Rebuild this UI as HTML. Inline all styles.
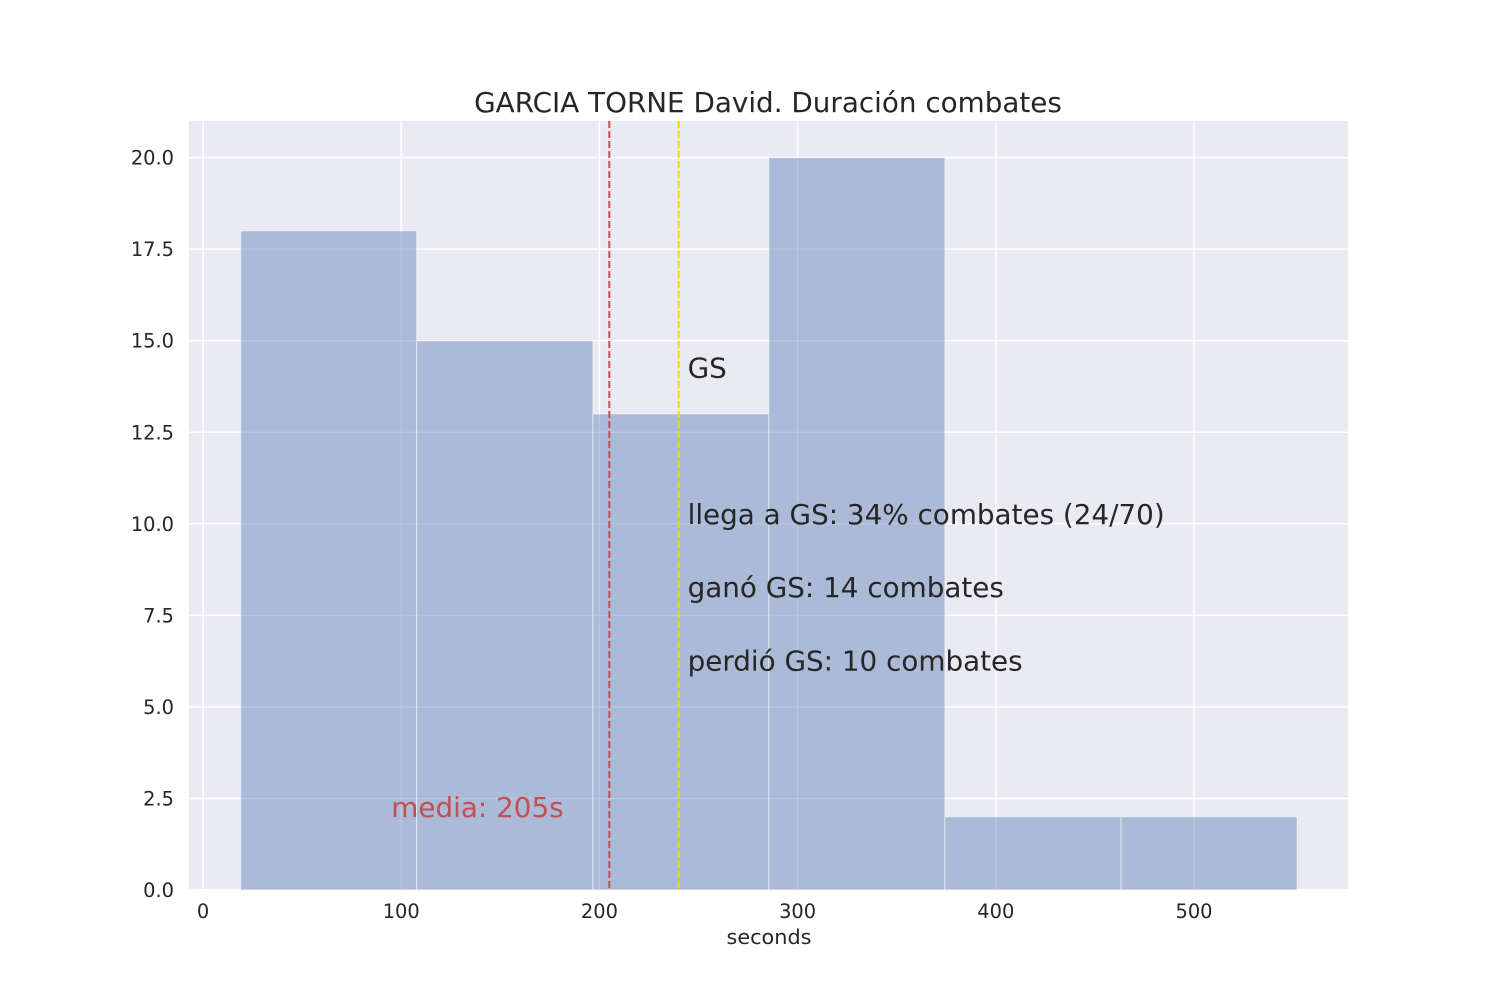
<!DOCTYPE html>
<html><head><meta charset="utf-8"><style>
body{margin:0;background:#fff}
svg text{font-family:"DejaVu Sans","Liberation Sans",sans-serif;fill:#262626}
</style></head><body>
<svg id="chart" width="1500" height="1000">
<rect x="189" y="121" width="1159" height="768" fill="#eaeaf2"/>
<g id="grid"></g><g id="bars"></g><g id="lines"></g><g id="ticks"></g>
<text x="768" y="112" font-size="27.8" text-anchor="middle">GARCIA TORNE David. Duración combates</text>
<text x="769" y="944" font-size="20.8" text-anchor="middle">seconds</text>
</svg>
<script>
const binEdges=[19,107.8,196.7,285.5,374.3,463.2,552];
const counts=[18,15,13,20,2,2];
const xTicks=[0,100,200,300,400,500];
const yTicks=[0,2.5,5,7.5,10,12.5,15,17.5,20];
const meanVal=205, gsVal=240;
const notes=[["GS",245,14],["llega a GS: 34% combates (24/70)",245,10],["ganó GS: 14 combates",245,8],["perdió GS: 10 combates",245,6]];
const mediaLabel=["media: 205s",95,2];
const X0=189,X1=1348,Y0=890,Y1=121,xmin=-7.07,xmax=577.7,ymin=0,ymax=21.0;
const sx=v=>X0+(v-xmin)/(xmax-xmin)*(X1-X0);
const sy=v=>Y0-(v-ymin)/(ymax-ymin)*(Y0-Y1);
const NS="http://www.w3.org/2000/svg";
function mk(p,t,a){const e=document.createElementNS(NS,t);for(const k in a)e.setAttribute(k,a[k]);document.getElementById(p).appendChild(e);return e;}
xTicks.forEach(v=>{
 const l=mk('grid','line',{x1:sx(v),x2:sx(v),y1:Y1,y2:Y0,stroke:'#fff','stroke-width':1.5});
 
 
 const t=mk('ticks','text',{x:sx(v),y:918,'font-size':19.4,'text-anchor':'middle'});t.textContent=v;
 
 
});
yTicks.forEach(v=>{
 const l=mk('grid','line',{x1:X0,x2:X1,y1:sy(v),y2:sy(v),stroke:'#fff','stroke-width':1.5});
 
 
 const t=mk('ticks','text',{x:174,y:sy(v)+7,'font-size':19.4,'text-anchor':'end'});t.textContent=v.toFixed(1);
 
 
});
counts.forEach((c,i)=>{
 const r=mk('bars','rect',{x:sx(binEdges[i]),y:sy(c),width:sx(binEdges[i+1])-sx(binEdges[i]),height:sy(0)-sy(c),fill:'rgba(76,114,176,0.4)',stroke:'rgba(255,255,255,0.5)','stroke-width':1});
 
 
});
const m=mk('lines','line',{x1:sx(meanVal),x2:sx(meanVal),y1:Y1,y2:Y0,stroke:'#c44e52','stroke-width':2,'stroke-dasharray':'7,3'});


const g=mk('lines','line',{x1:sx(gsVal),x2:sx(gsVal),y1:Y1,y2:Y0,stroke:'gold','stroke-width':2,'stroke-dasharray':'7,3'});


notes.forEach(n=>{
 const t=mk('lines','text',{x:sx(n[1])-1,y:sy(n[2]),'font-size':27.8});t.textContent=n[0];
 
 
});
const md=mk('lines','text',{x:sx(mediaLabel[1]),y:sy(mediaLabel[2]),'font-size':27.8});
md.textContent=mediaLabel[0];md.style.fill='#c44e52';


</script>
</body></html>
